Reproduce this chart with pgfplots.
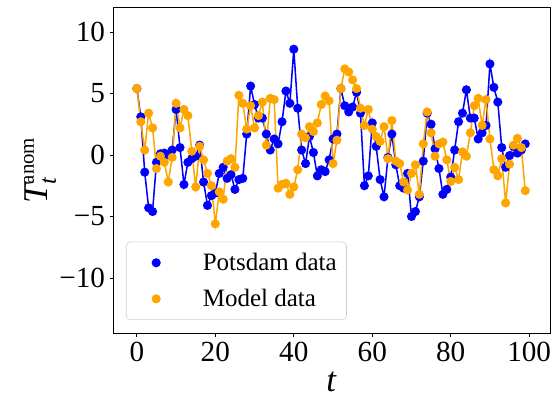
\documentclass[border=0pt]{standalone}
\usepackage{pgfplots}
\pgfplotsset{compat=1.18}
\usepackage{amsmath}
\usepackage{fontspec}
\setmainfont{Liberation Serif}
\usetikzlibrary{calc}
\definecolor{mplorange}{HTML}{FFA500}
\definecolor{mplblue}{HTML}{0000FF}
\begin{document}
\begin{tikzpicture}
\begin{axis}[
  scale only axis,
  width=314.4pt, height=234.7pt,
  xmin=-6, xmax=105.3, ymin=-14.5, ymax=12,
  xtick={0,20,40,60,80,100},
  ytick={-10,-5,0,5,10},
  yticklabels={−10,−5,0,5,10},
  /pgf/number format/assume math mode=true,
  tick label style={font=\fontsize{21}{24}\selectfont},
  tick align=outside,
  major tick length=2.5pt,
  xtick pos=bottom, ytick pos=left,
  axis line style={line width=0.6pt},
  every tick/.style={black, line width=0.6pt},
  xlabel={\textit{t}},
  ylabel={$\textit{T}^{\text{\fontsize{15}{17}\selectfont anom}}_{\textit{t}}$},
  xlabel style={font=\fontsize{25}{28}\selectfont, at={(axis description cs:0.5,-0.15)}, anchor=center},
  ylabel style={font=\fontsize{25}{28}\selectfont, at={(axis description cs:-0.168,0.5)}, anchor=center},
  legend style={at={(0.029,0.041)}, anchor=south west, draw=black!20, rounded corners=3pt,
    font=\fontsize{18}{22}\selectfont, row sep=8pt, inner xsep=5pt, inner ysep=6pt},
  legend cell align=left,
]
\addplot[mplblue, line width=1.1pt, mark=*, mark size=2.7pt, mark options={solid},
  legend image code/.code={\path (-16pt,0) (31pt,0); \fill[mplblue] (0,0) circle (2.7pt);}]
coordinates {
(0,5.4)(1,3.1)(2,-1.4)(3,-4.3)(4,-4.6)(5,-0.6)(6,0.1)(7,0.15)(8,0.0)(9,0.4)
(10,3.7)(11,0.6)(12,-2.4)(13,-0.6)(14,-0.3)(15,-0.1)(16,0.8)(17,-2.2)(18,-4.1)(19,-3.3)
(20,-3.1)(21,-1.5)(22,-1.0)(23,-1.9)(24,-1.6)(25,-2.8)(26,-2.0)(27,-1.9)(28,1.7)(29,5.6)
(30,4.1)(31,3.0)(32,3.0)(33,1.7)(34,0.4)(35,1.3)(36,0.9)(37,2.7)(38,5.2)(39,4.2)
(40,8.6)(41,3.8)(42,0.4)(43,-0.7)(44,1.5)(45,0.2)(46,-1.7)(47,-1.2)(48,-1.35)(49,-0.4)
(50,1.3)(51,1.7)(52,5.4)(53,4.0)(54,3.5)(55,3.9)(56,5.1)(57,3.4)(58,-2.5)(59,-1.7)
(60,2.6)(61,0.7)(62,-2.0)(63,-3.4)(64,-0.2)(65,1.7)(66,-0.8)(67,-2.5)(68,-2.7)(69,-1.5)
(70,-5.0)(71,-4.6)(72,-3.4)(73,-0.5)(74,3.4)(75,2.5)(76,0.5)(77,-1.1)(78,-3.2)(79,-2.8)
(80,-1.8)(81,0.4)(82,2.7)(83,3.4)(84,5.3)(85,3.0)(86,3.0)(87,1.3)(88,1.8)(89,2.4)
(90,7.4)(91,5.5)(92,4.3)(93,0.6)(94,-1.0)(95,-0.05)(96,0.7)(97,0.15)(98,0.4)(99,0.9)
};
\addlegendentry{Potsdam data}
\addplot[mplorange, line width=1.1pt, mark=*, mark size=2.7pt, mark options={solid},
  legend image code/.code={\path (-16pt,0) (31pt,0); \fill[mplorange] (0,0) circle (2.7pt);}]
coordinates {
(0,5.4)(1,2.7)(2,0.4)(3,3.4)(4,2.2)(5,-1.1)(6,-0.1)(7,-0.6)(8,-2.2)(9,-0.2)
(10,4.2)(11,2.2)(12,3.7)(13,3.2)(14,0.3)(15,-2.6)(16,0.7)(17,-0.4)(18,-1.5)(19,-2.5)
(20,-5.6)(21,-3.0)(22,-3.6)(23,-0.5)(24,-0.3)(25,-1.0)(26,4.85)(27,4.2)(28,2.1)(29,4.0)
(30,2.2)(31,3.2)(32,4.3)(33,0.8)(34,4.6)(35,4.5)(36,-2.7)(37,-2.4)(38,-2.3)(39,-3.2)
(40,-2.6)(41,-1.2)(42,1.7)(43,1.4)(44,2.3)(45,1.9)(46,2.6)(47,4.1)(48,4.8)(49,4.4)
(50,-0.7)(51,1.2)(52,5.4)(53,7.0)(54,6.75)(55,6.1)(56,5.4)(57,3.8)(58,2.4)(59,3.7)
(60,2.1)(61,1.5)(62,1.1)(63,2.3)(64,-0.3)(65,2.8)(66,-0.5)(67,-0.7)(68,-2.2)(69,-2.85)
(70,-1.5)(71,-0.8)(72,-3.2)(73,0.9)(74,3.5)(75,1.8)(76,-0.1)(77,0.9)(78,1.05)(79,-0.4)
(80,-2.15)(81,-1.0)(82,-2.0)(83,0.25)(84,-0.1)(85,1.8)(86,4.0)(87,4.6)(88,2.4)(89,4.5)
(90,1.3)(91,-1.2)(92,-1.7)(93,-0.3)(94,-3.9)(95,-0.75)(96,0.8)(97,1.35)(98,0.6)(99,-2.9)
};
\addlegendentry{Model data}
\end{axis}
\pgfresetboundingbox
\path ($(current axis.south west)+(-81.6pt,-48pt)$) rectangle ($(current axis.north east)+(2.9pt,5.3pt)$);
\end{tikzpicture}
\end{document}
